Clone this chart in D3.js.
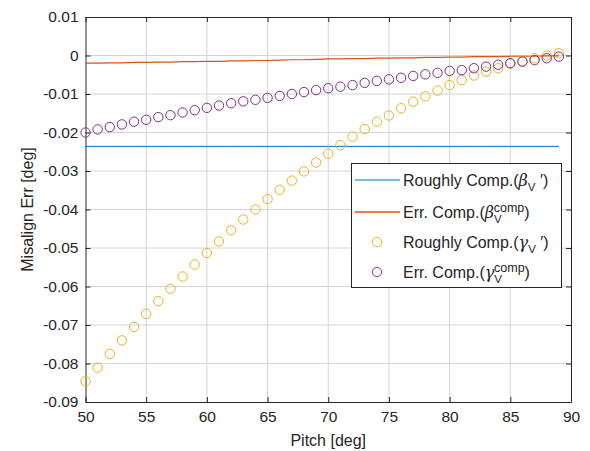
<!DOCTYPE html>
<html><head><meta charset="utf-8">
<script src="https://cdn.jsdelivr.net/npm/d3@7"></script>
<style>body{margin:0;background:#fff}svg{display:block}</style>
</head><body><svg id="c" width="590" height="451"></svg>
<script>
const pitch = d3.range(50, 90);
const roughBeta = pitch.map(() => -0.0236);
const errBeta = [-0.0020,-0.0020,-0.0019,-0.0019,-0.0018,-0.0018,-0.0017,-0.0017,-0.0016,-0.0016,
  -0.0015,-0.0015,-0.0014,-0.0014,-0.0013,-0.0013,-0.0012,-0.0011,-0.0011,-0.0010,
  -0.0009,-0.0009,-0.0008,-0.0008,-0.0007,-0.0007,-0.0006,-0.0006,-0.0005,-0.0005,
  -0.0004,-0.0004,-0.0003,-0.0003,-0.0003,-0.0002,-0.0002,-0.0002,-0.0001,-0.0001];
const roughGamma = [-0.0846,-0.0811,-0.0775,-0.0740,-0.0705,-0.0671,-0.0638,-0.0606,-0.0574,-0.0543,
  -0.0513,-0.0483,-0.0454,-0.0426,-0.0400,-0.0373,-0.0349,-0.0325,-0.0301,-0.0278,
  -0.0255,-0.0233,-0.0211,-0.0191,-0.0172,-0.0156,-0.0137,-0.0120,-0.0106,-0.0091,
  -0.0077,-0.0064,-0.0052,-0.0042,-0.0033,-0.0021,-0.0015,-0.0007,0.0000,0.0006];
const errGamma = [-0.0200,-0.0192,-0.0186,-0.0179,-0.0172,-0.0167,-0.0160,-0.0155,-0.0148,-0.0142,
  -0.0136,-0.0130,-0.0124,-0.0119,-0.0115,-0.0110,-0.0105,-0.0100,-0.0095,-0.0090,
  -0.0085,-0.0081,-0.0077,-0.0071,-0.0066,-0.0062,-0.0058,-0.0053,-0.0049,-0.0045,
  -0.0040,-0.0038,-0.0033,-0.0029,-0.0024,-0.0020,-0.0016,-0.0012,-0.0007,-0.0003];
const xTicks = [50,55,60,65,70,75,80,85,90];
const yTicks = [0.01,0,-0.01,-0.02,-0.03,-0.04,-0.05,-0.06,-0.07,-0.08,-0.09];
const colors = {blue:"#0072BD", orange:"#D95319", yellow:"#EDB120", purple:"#7E2F8E"};

const L=85.5, R=571, T=17, B=402;
const svg = d3.select("#c");
const x = d3.scaleLinear().domain([50,90]).range([L,R]);
const y = d3.scaleLinear().domain([-0.09,0.01]).range([B,T]);
const font = "'Liberation Sans', Arial, sans-serif";
const tc = "#262626";

// grid
svg.append("g").selectAll("line").data(xTicks.slice(1,-1)).join("line")
  .attr("x1",d=>x(d)).attr("x2",d=>x(d)).attr("y1",T).attr("y2",B)
  .attr("stroke","#d4d4d4").attr("stroke-width",1);
svg.append("g").selectAll("line").data(yTicks.slice(1,-1)).join("line")
  .attr("y1",d=>y(d)).attr("y2",d=>y(d)).attr("x1",L).attr("x2",R)
  .attr("stroke","#d4d4d4").attr("stroke-width",1);

// axes
const fmt = d => d===0 ? "0" : d3.format(".2f")(d).replace("−","-");
const ax = svg.append("g").attr("transform",`translate(0,${B})`)
  .call(d3.axisBottom(x).tickValues(xTicks).tickSize(-5).tickPadding(9).tickSizeOuter(0));
const ay = svg.append("g").attr("transform",`translate(${L},0)`)
  .call(d3.axisLeft(y).tickValues(yTicks).tickFormat(fmt).tickSize(-5).tickPadding(7).tickSizeOuter(0));
const axT = svg.append("g").attr("transform",`translate(0,${T})`)
  .call(d3.axisTop(x).tickValues(xTicks).tickSize(-5).tickFormat("").tickSizeOuter(0));
const ayR = svg.append("g").attr("transform",`translate(${R},0)`)
  .call(d3.axisRight(y).tickValues(yTicks).tickSize(-5).tickFormat("").tickSizeOuter(0));
[ax,ay,axT,ayR].forEach(g=>{
  g.selectAll("path").attr("stroke","#262626");
  g.selectAll("line").attr("stroke","#262626");
  g.selectAll("text").attr("font-family",font).attr("font-size",15.5).attr("fill",tc);
});

// data
svg.append("path").datum(pitch.map((p,i)=>[p,roughBeta[i]]))
  .attr("d",d3.line().x(d=>x(d[0])).y(d=>y(d[1])))
  .attr("fill","none").attr("stroke",colors.blue).attr("stroke-width",1);
svg.append("path").datum(pitch.map((p,i)=>[p,errBeta[i]]))
  .attr("d",d3.line().x(d=>x(d[0])).y(d=>y(d[1])))
  .attr("fill","none").attr("stroke",colors.orange).attr("stroke-width",1.2);
svg.append("g").selectAll("circle").data(pitch.map((p,i)=>[p,roughGamma[i]])).join("circle")
  .attr("cx",d=>x(d[0])).attr("cy",d=>y(d[1])).attr("r",4.7)
  .attr("fill","none").attr("stroke",colors.yellow).attr("stroke-width",1);
svg.append("g").selectAll("circle").data(pitch.map((p,i)=>[p,errGamma[i]])).join("circle")
  .attr("cx",d=>x(d[0])).attr("cy",d=>y(d[1])).attr("r",4.7)
  .attr("fill","none").attr("stroke",colors.purple).attr("stroke-width",1);

// labels
svg.append("text").attr("x",(L+R)/2).attr("y",446).attr("text-anchor","middle")
  .attr("font-family",font).attr("font-size",16).attr("fill",tc).text("Pitch [deg]");
svg.append("text").attr("transform",`translate(33,${(T+B)/2}) rotate(-90)`).attr("text-anchor","middle")
  .attr("font-family",font).attr("font-size",16).attr("fill",tc).text("Misalign Err [deg]");

// legend
const lg = svg.append("g");
lg.append("rect").attr("x",351.5).attr("y",163.5).attr("width",210).attr("height",124)
  .attr("fill","#fff").attr("stroke","#262626").attr("stroke-width",1);
const entries = [
  {name:"Roughly Comp.(", sym:"β", sup:null, type:"line", color:colors.blue},
  {name:"Err. Comp.(", sym:"β", sup:"comp", type:"line", color:colors.orange},
  {name:"Roughly Comp.(", sym:"γ", sup:null, type:"circle", color:colors.yellow},
  {name:"Err. Comp.(", sym:"γ", sup:"comp", type:"circle", color:colors.purple}
];
const ys = [180, 212, 242, 272];
entries.forEach((e,i)=>{
  const yy = ys[i];
  if(e.type==="line"){
    lg.append("line").attr("x1",355).attr("x2",400).attr("y1",yy).attr("y2",yy)
      .attr("stroke",e.color).attr("stroke-width",e.color===colors.orange?1.5:1);
  } else {
    lg.append("circle").attr("cx",377).attr("cy",yy).attr("r",4.7)
      .attr("fill","none").attr("stroke",e.color).attr("stroke-width",1);
  }
  const t = lg.append("text").attr("x",403).attr("y",yy+6).attr("font-family",font)
    .attr("font-size",16).attr("fill",tc);
  t.append("tspan").text(e.name);
  t.append("tspan").attr("font-style","italic").attr("font-family","'DejaVu Serif', serif").text(e.sym);
  t.append("tspan").attr("font-size",11.5).attr("dy",5).text("V");
  if(e.sup){
    t.append("tspan").attr("font-size",12.5).attr("dx",-8).attr("dy",-11).text(e.sup);
    t.append("tspan").attr("dy",6).text(")");
  } else {
    t.append("tspan").attr("dy",-5).text(" ′)");
  }
});
</script>
</body></html>
